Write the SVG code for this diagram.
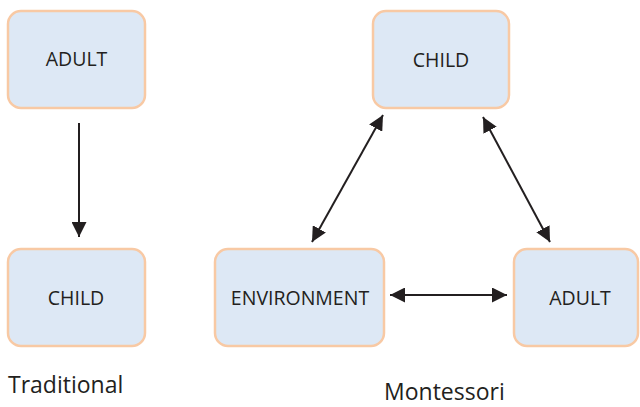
<svg xmlns="http://www.w3.org/2000/svg" width="640" height="407" viewBox="0 0 640 407">
  <style>
    .box { fill: #dde8f5; stroke: #f8c9a4; stroke-width: 2.5; }
    .lbl { font-family: "Open Sans", "Noto Sans", sans-serif; font-size: 19.5px; fill: #231f20; text-anchor: middle; }
    .cap { font-family: "Open Sans", "Noto Sans", sans-serif; font-size: 23px; fill: #231f20; }
    .con { stroke: #231f20; stroke-width: 2; fill: none; }
  </style>
  <defs>
    <marker id="ah" viewBox="0 0 15 15" refX="15" refY="7.5" markerWidth="15" markerHeight="15" markerUnits="userSpaceOnUse" orient="auto-start-reverse">
      <path d="M0,0 L15,7.5 L0,15 z" fill="#231f20"/>
    </marker>
  </defs>
  <rect width="640" height="407" fill="#ffffff"/>

  <g id="trad-adult">
    <rect class="box" x="8" y="11" width="137" height="97" rx="13"/>
    <text class="lbl" x="76.5" y="66">ADULT</text>
  </g>
  <g id="trad-child">
    <rect class="box" x="8" y="249" width="137" height="97" rx="13"/>
    <text class="lbl" x="76" y="305">CHILD</text>
  </g>
  <g id="mont-child">
    <rect class="box" x="373" y="11" width="136" height="97" rx="13"/>
    <text class="lbl" x="441" y="67">CHILD</text>
  </g>
  <g id="mont-env">
    <rect class="box" x="215" y="249" width="169" height="97" rx="13"/>
    <text class="lbl" x="300" y="305">ENVIRONMENT</text>
  </g>
  <g id="mont-adult">
    <rect class="box" x="514" y="249" width="124" height="97" rx="13"/>
    <text class="lbl" x="580" y="305">ADULT</text>
  </g>

  <g id="connectors">
    <line class="con" x1="79" y1="123" x2="79" y2="237" marker-end="url(#ah)"/>
    <line class="con" x1="312" y1="242" x2="383" y2="115" marker-start="url(#ah)" marker-end="url(#ah)"/>
    <line class="con" x1="483" y1="117" x2="550" y2="242" marker-start="url(#ah)" marker-end="url(#ah)"/>
    <line class="con" x1="390" y1="295" x2="507" y2="295" marker-start="url(#ah)" marker-end="url(#ah)"/>
  </g>

  <g id="captions">
    <text class="cap" x="8" y="393">Traditional</text>
    <text class="cap" x="384" y="400">Montessori</text>
  </g>
</svg>
